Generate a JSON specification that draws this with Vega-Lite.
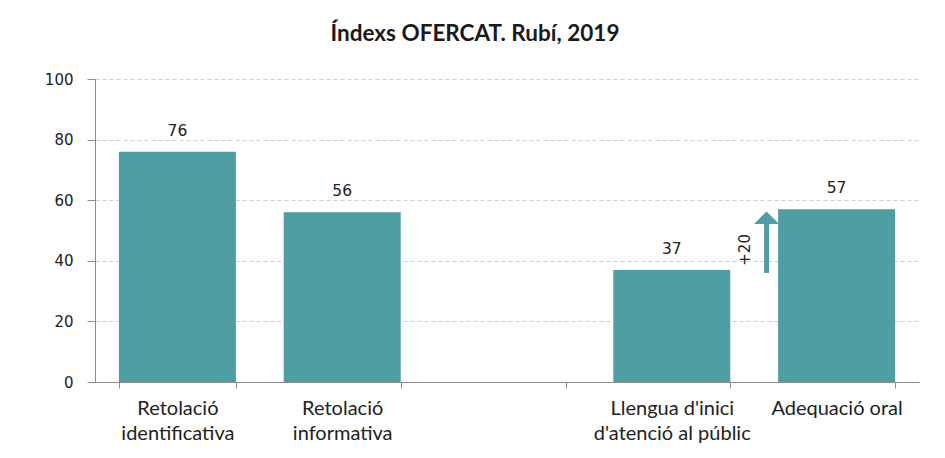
{
  "$schema": "https://vega.github.io/schema/vega-lite/v6.json",
  "width": 824,
  "height": 303,
  "autosize": {"type": "none"},
  "padding": {"left": 95, "top": 79, "right": 26, "bottom": 76},
  "background": "white",
  "title": {
    "text": "Índexs OFERCAT. Rubí, 2019",
    "font": "Lato",
    "fontSize": 22.5,
    "fontWeight": "bold",
    "color": "#1a1a1a",
    "anchor": "middle",
    "dx": -32,
    "offset": 27
  },
  "config": {
    "view": {"stroke": null},
    "axis": {"domainColor": "#8c8c8c", "tickColor": "#8c8c8c", "labelColor": "#222222"}
  },
  "datasets": {
    "bars": [
      {"cat": "Retolació|identificativa", "value": 76},
      {"cat": "Retolació|informativa", "value": 56},
      {"cat": "Llengua d'inici|d'atenció al públic", "value": 37},
      {"cat": "Adequació oral", "value": 57}
    ],
    "arrow": [
      {"cat": "Llengua d'inici|d'atenció al públic", "from": 36, "to": 52.5, "head": 54.2, "labelPos": 43.6, "label": "+20"}
    ]
  },
  "encoding": {},
  "layer": [
    {
      "data": {"name": "bars"},
      "mark": {"type": "bar", "color": "#4f9ea4"},
      "encoding": {
        "x": {
          "field": "cat",
          "type": "nominal",
          "sort": null,
          "scale": {
            "domain": ["Retolació|identificativa", "Retolació|informativa", " ", "Llengua d'inici|d'atenció al públic", "Adequació oral"],
            "paddingInner": 0.29,
            "paddingOuter": 0.145
          },
          "axis": {
            "title": null,
            "labelAngle": 0,
            "labelExpr": "split(datum.label, '|')",
            "labelFont": "Lato",
            "labelFontSize": 20,
            "labelLineHeight": 25,
            "labelPadding": 10,
            "tickBand": "extent",
            "tickSize": 6,
            "labelColor": "#222222"
          }
        },
        "y": {
          "field": "value",
          "type": "quantitative",
          "scale": {"domain": [0, 100]},
          "axis": {
            "title": null,
            "values": [0, 20, 40, 60, 80, 100],
            "labelFont": "DejaVu Sans",
            "labelFontSize": 15,
            "labelPadding": 14,
            "tickSize": 8,
            "grid": true,
            "gridColor": "#cfcfcf",
            "gridDash": [4, 3]
          }
        }
      }
    },
    {
      "data": {"name": "bars"},
      "mark": {"type": "text", "font": "DejaVu Sans", "fontSize": 15.5, "baseline": "alphabetic", "dy": -16, "color": "#222222"},
      "encoding": {
        "x": {"field": "cat", "type": "nominal", "sort": null},
        "y": {"field": "value", "type": "quantitative"},
        "text": {"field": "value", "type": "quantitative"}
      }
    },
    {
      "data": {"name": "arrow"},
      "mark": {"type": "rule", "color": "#4f9ea4", "strokeWidth": 5},
      "encoding": {
        "x": {"field": "cat", "type": "nominal", "bandPosition": 1.31},
        "y": {"field": "from", "type": "quantitative"},
        "y2": {"field": "to"}
      }
    },
    {
      "data": {"name": "arrow"},
      "mark": {"type": "point", "filled": true, "color": "#4f9ea4", "opacity": 1, "shape": "M-1,0.5L1,0.5L0,-0.5Z", "size": 625},
      "encoding": {
        "x": {"field": "cat", "type": "nominal", "bandPosition": 1.31},
        "y": {"field": "head", "type": "quantitative"}
      }
    },
    {
      "data": {"name": "arrow"},
      "mark": {"type": "text", "font": "DejaVu Sans", "fontSize": 15, "angle": 270, "align": "center", "baseline": "middle", "color": "#222222"},
      "encoding": {
        "x": {"field": "cat", "type": "nominal", "bandPosition": 1.126},
        "y": {"field": "labelPos", "type": "quantitative"},
        "text": {"field": "label"}
      }
    }
  ]
}
